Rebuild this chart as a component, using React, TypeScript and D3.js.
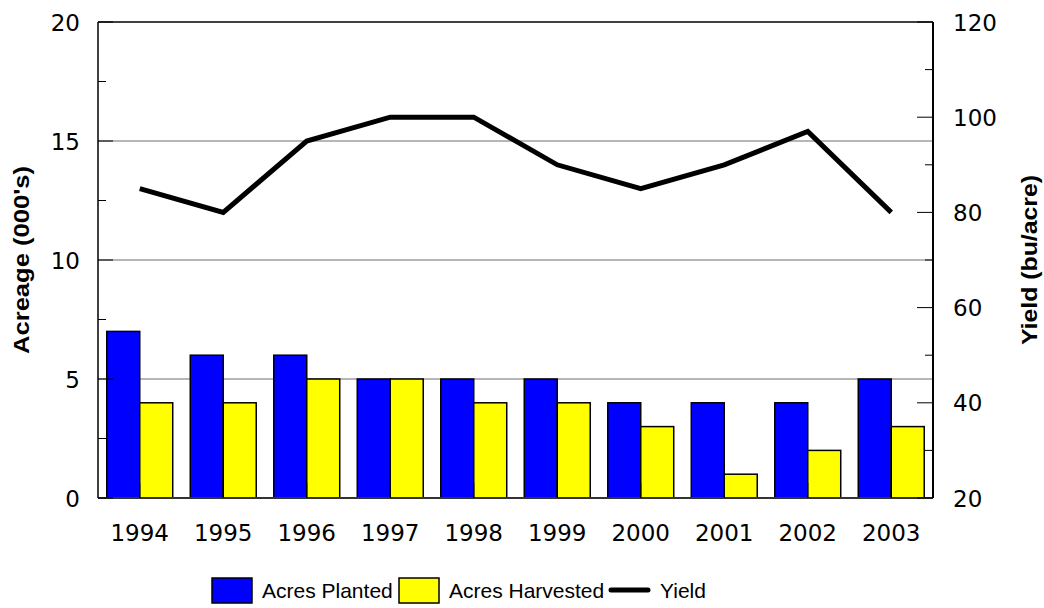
import React from "react";
import * as d3 from "d3";

const years = ["1994", "1995", "1996", "1997", "1998", "1999", "2000", "2001", "2002", "2003"];
const acresPlanted = [7, 6, 6, 5, 5, 5, 4, 4, 4, 5];
const acresHarvested = [4, 4, 5, 5, 4, 4, 3, 1, 2, 3];
const yieldVals = [85, 80, 95, 100, 100, 90, 85, 90, 97, 80];
const leftTicks = [0, 5, 10, 15, 20];
const leftMinor = [2.5, 7.5, 12.5, 17.5];
const rightTicks = [20, 40, 60, 80, 100, 120];
const rightMinor = [30, 50, 70, 90, 110];
const gridVals = [5, 10, 15];

const W = 1044, H = 608;
const L = 98, R = 933, T = 22, B = 498;

export default function App() {
  const x = d3.scaleBand<string>().domain(years).range([L, R]).paddingInner(0.21).paddingOuter(0.105);
  const sub = d3.scaleBand<string>().domain(["p", "h"]).range([0, x.bandwidth()]);
  const yL = d3.scaleLinear().domain([0, 20]).range([B, T]);
  const yR = d3.scaleLinear().domain([20, 120]).range([B, T]);
  const cx = (y: string) => (x(y) as number) + x.bandwidth() / 2;
  const line = d3.line<number>().x((_, i) => cx(years[i])).y((d) => yR(d));
  const tickFont = "'DejaVu Sans', sans-serif";
  const labFont = "'Liberation Sans', Arial, sans-serif";

  return (
    <svg width={W} height={H} style={{ position: "absolute", left: 0, top: 0, background: "#fff" }}>
      {gridVals.map((v) => (
        <line key={"g" + v} x1={L} x2={R} y1={yL(v)} y2={yL(v)} stroke="#6e6e6e" strokeWidth={1} />
      ))}
      <line x1={L} x2={R} y1={T} y2={T} stroke="#000" strokeWidth={1.5} />
      {years.map((yr, i) => (
        <g key={yr}>
          <rect x={(x(yr) as number) + (sub("p") as number)} y={yL(acresPlanted[i])} width={sub.bandwidth()} height={B - yL(acresPlanted[i])} fill="#0000ff" stroke="#000" strokeWidth={1.5} />
          <rect x={(x(yr) as number) + (sub("h") as number)} y={yL(acresHarvested[i])} width={sub.bandwidth()} height={B - yL(acresHarvested[i])} fill="#ffff00" stroke="#000" strokeWidth={1.5} />
        </g>
      ))}
      <line x1={L} x2={R} y1={B} y2={B} stroke="#333" strokeWidth={2} />
      {years.map((yr) => (
        <line key={"xt" + yr} x1={cx(yr)} x2={cx(yr)} y1={B} y2={B - 15} stroke="#000" strokeWidth={1} />
      ))}
      <line x1={L} x2={L} y1={T} y2={B} stroke="#000" strokeWidth={1.5} />
      <line x1={R} x2={R} y1={T} y2={B} stroke="#000" strokeWidth={2} />
      {leftTicks.map((v) => (
        <line key={"lt" + v} x1={L} x2={L + 15} y1={yL(v)} y2={yL(v)} stroke="#000" strokeWidth={1} />
      ))}
      {leftMinor.map((v) => (
        <line key={"lm" + v} x1={L} x2={L + 8} y1={yL(v)} y2={yL(v)} stroke="#000" strokeWidth={1} />
      ))}
      {rightTicks.map((v) => (
        <line key={"rt" + v} x1={R - 16} x2={R} y1={yR(v)} y2={yR(v)} stroke="#000" strokeWidth={1} />
      ))}
      {rightMinor.map((v) => (
        <line key={"rm" + v} x1={R - 8} x2={R} y1={yR(v)} y2={yR(v)} stroke="#000" strokeWidth={1} />
      ))}
      <path d={line(yieldVals) || ""} fill="none" stroke="#000" strokeWidth={5} strokeLinejoin="miter" />
      {leftTicks.map((v) => (
        <text key={"ll" + v} x={80} y={yL(v) + 8.5} textAnchor="end" fontFamily={tickFont} fontSize={23} fill="#000">{v}</text>
      ))}
      {rightTicks.map((v) => (
        <text key={"rl" + v} x={953} y={yR(v) + 8.5} textAnchor="start" fontFamily={tickFont} fontSize={23} fill="#000">{v}</text>
      ))}
      {years.map((yr) => (
        <text key={"xl" + yr} x={cx(yr)} y={541} textAnchor="middle" fontFamily={tickFont} fontSize={23} fill="#000">{yr}</text>
      ))}
      <text transform={`translate(29,${(T + B) / 2}) rotate(-90)`} textAnchor="middle" fontFamily={labFont} fontWeight="bold" fontSize={22} textLength={188} lengthAdjust="spacingAndGlyphs">Acreage (000's)</text>
      <text transform={`translate(1037,${(T + B) / 2}) rotate(-90)`} textAnchor="middle" fontFamily={labFont} fontWeight="bold" fontSize={22} textLength={170} lengthAdjust="spacingAndGlyphs">Yield (bu/acre)</text>
      <rect x={212} y={578} width={40} height={25} fill="#0000ff" stroke="#000" strokeWidth={1.5} />
      <text x={262} y={598} fontFamily={labFont} fontSize={21}>Acres Planted</text>
      <rect x={399} y={578} width={40} height={25} fill="#ffff00" stroke="#000" strokeWidth={1.5} />
      <text x={449} y={598} fontFamily={labFont} fontSize={21}>Acres Harvested</text>
      <line x1={611} x2={648} y1={590} y2={590} stroke="#000" strokeWidth={5} strokeLinecap="round" />
      <text x={660} y={598} fontFamily={labFont} fontSize={21}>Yield</text>
    </svg>
  );
}
